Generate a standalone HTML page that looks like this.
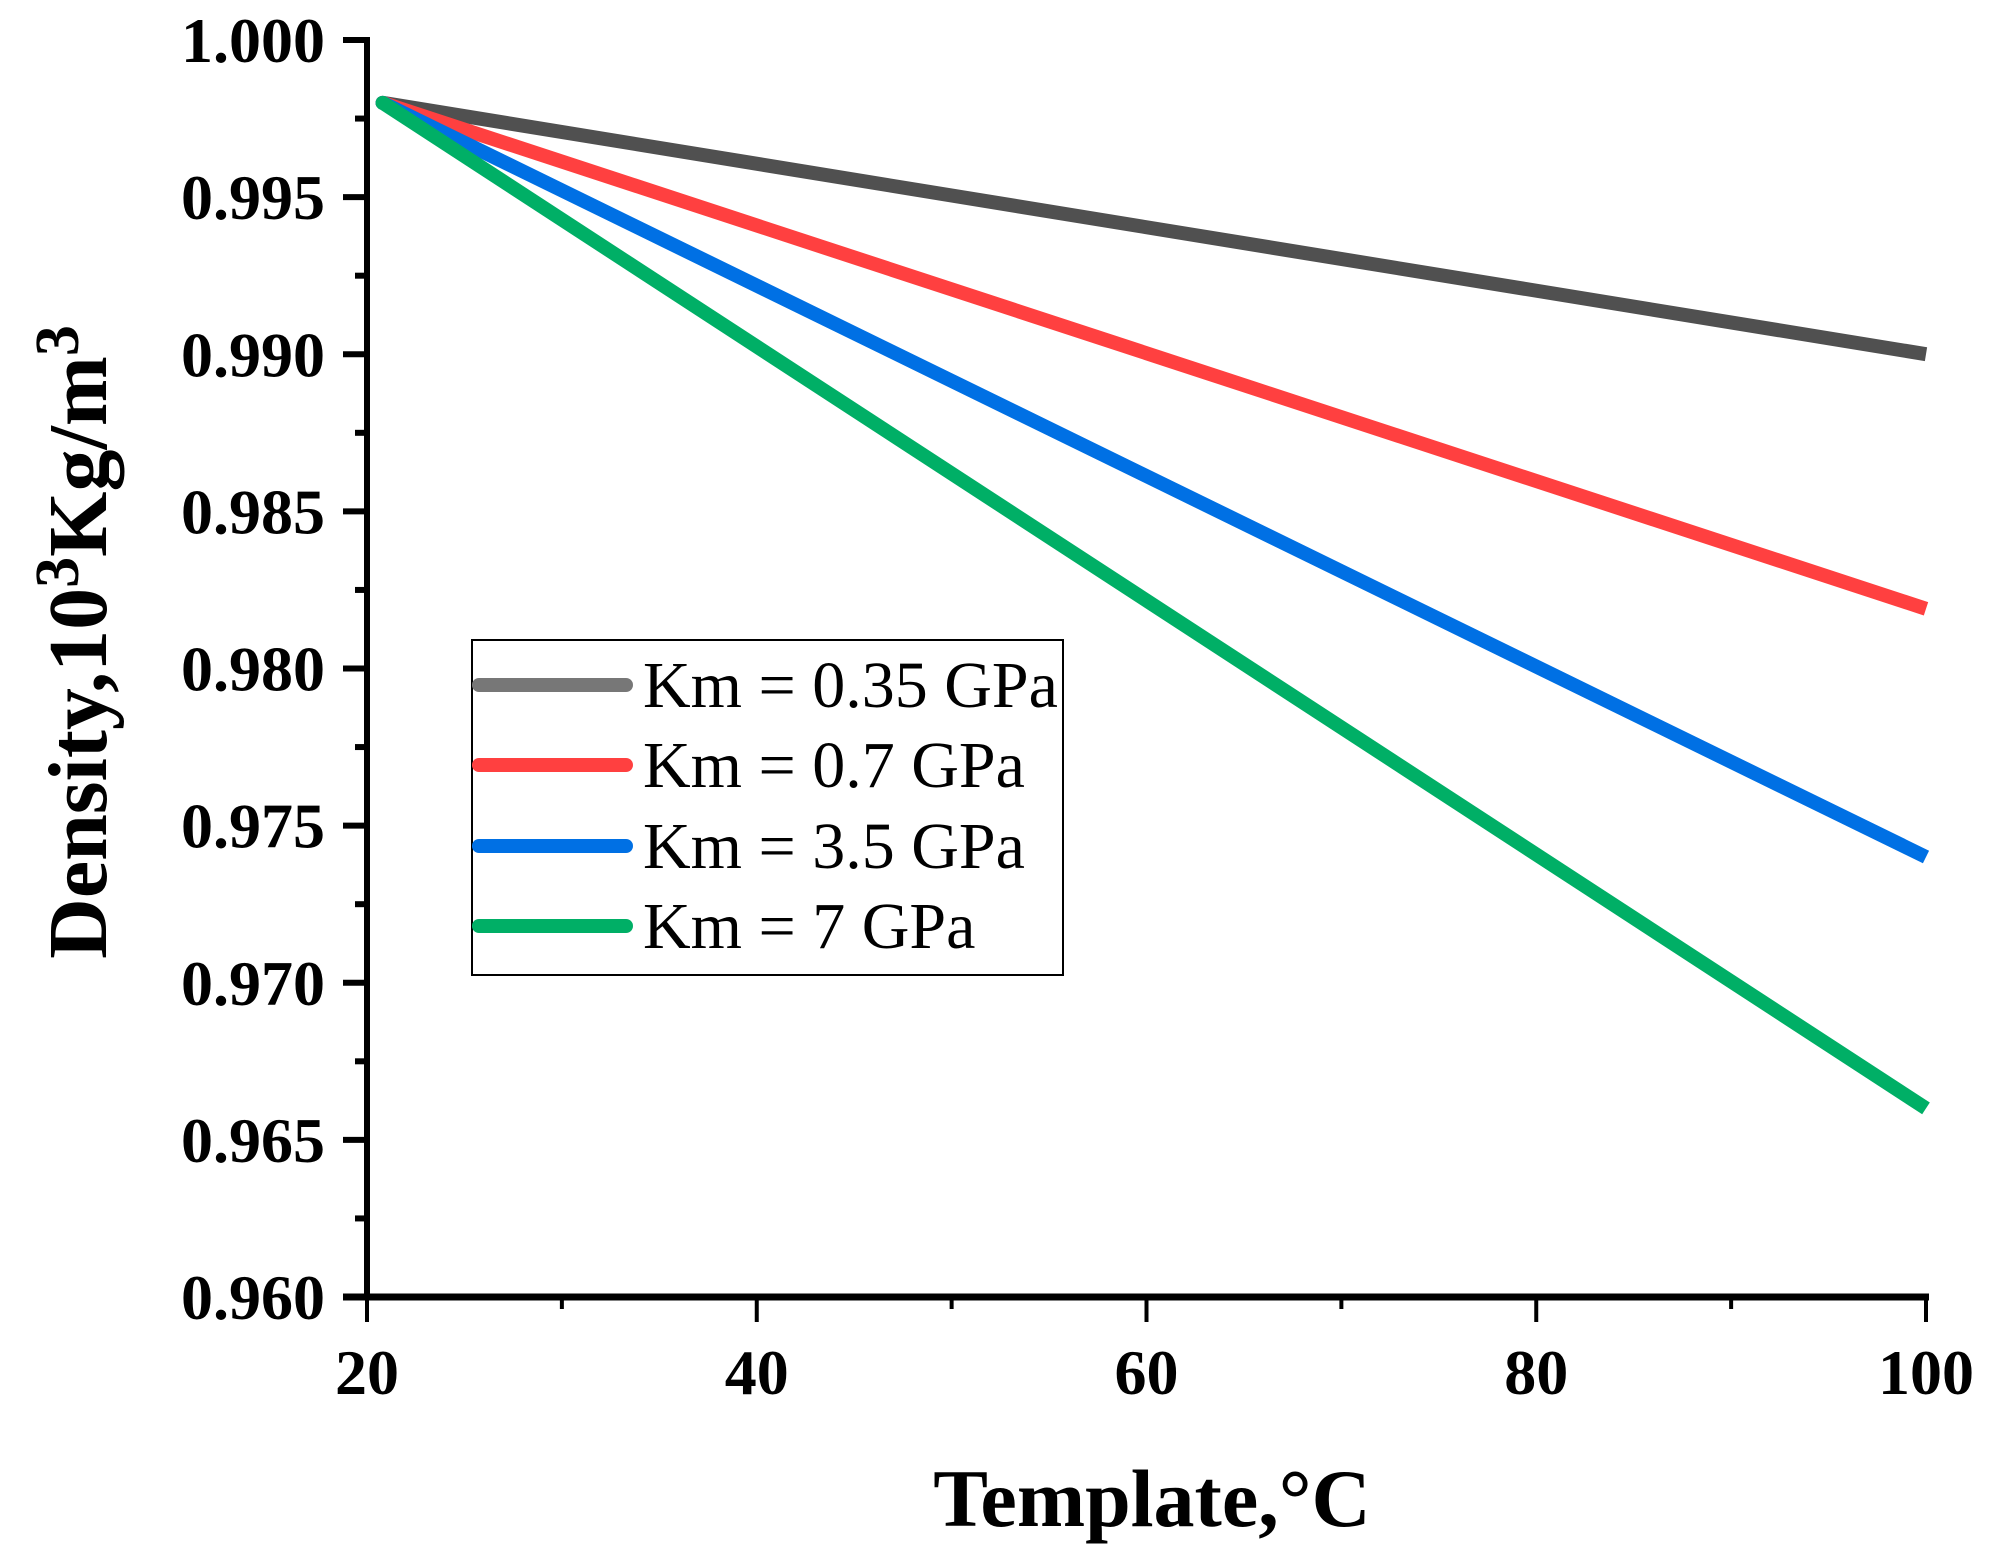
<!DOCTYPE html>
<html><head><meta charset="utf-8"><style>
html,body{margin:0;padding:0;background:#fff;}
svg{display:block;font-family:"Liberation Serif","Times New Roman",serif;}
</style></head><body>
<svg id="chart" width="1989" height="1560" viewBox="0 0 1989 1560" xmlns="http://www.w3.org/2000/svg">
<g id="plot"></g>
</svg>
<script>
const xTicks = [20, 40, 60, 80, 100];
const yTicks = [0.960, 0.965, 0.970, 0.975, 0.980, 0.985, 0.990, 0.995, 1.000];
const yTickLabels = ["0.960","0.965","0.970","0.975","0.980","0.985","0.990","0.995","1.000"];
const seriesNames = ["Km = 0.35 GPa","Km = 0.7 GPa","Km = 3.5 GPa","Km = 7 GPa"];
const seriesColors = ["#505050","#ff4040","#0070e4","#00af66"];
const legendColors = ["#777777","#ff4040","#0070e4","#00af66"];
const xValues = [20.8, 100];
const s035 = [0.998, 0.9900];
const s07 = [0.998, 0.9819];
const s35 = [0.998, 0.9740];
const s7 = [0.998, 0.9660];
const allSeries = [s035, s07, s35, s7];

const NS = "http://www.w3.org/2000/svg";
const X0 = 367, X1 = 1926, Y0 = 1297, Y1 = 40;
function sx(v){ return X0 + (v - 20) / 80 * (X1 - X0); }
function sy(v){ return Y0 - (v - 0.960) / 0.040 * (Y0 - Y1); }
const g = document.getElementById('plot');
function el(tag, attrs, parent){
  const e = document.createElementNS(NS, tag);
  for (const k in attrs) e.setAttribute(k, attrs[k]);
  (parent || g).appendChild(e);
  return e;
}

allSeries.forEach((s, i) => {
  const d = s.map((v, j) => (j ? 'L' : 'M') + sx(xValues[j]).toFixed(1) + ',' + sy(v).toFixed(1)).join(' ');
  const p = el('path', {d: d, stroke: seriesColors[i], 'stroke-width': 14, fill: 'none', 'stroke-linecap': 'butt'});
  
  
  const c = el('circle', {cx: sx(xValues[0]), cy: sy(s[0]), r: 7, fill: seriesColors[i]});
  
  
});

const ya = el('line', {x1: X0, y1: Y1 - 3, x2: X0, y2: Y0 + 3, stroke: '#000', 'stroke-width': 6});


const xa = el('line', {x1: X0 - 24, y1: Y0, x2: X1 + 3, y2: Y0, stroke: '#000', 'stroke-width': 7});



yTicks.forEach((v, i) => {
  const y = sy(v);
  const t = el('line', {x1: X0 - 24, y1: y, x2: X0, y2: y, stroke: '#000', 'stroke-width': 6});
  
  
  const tx = el('text', {x: 325, y: y + 22, 'text-anchor': 'end', 'font-size': 64, 'font-weight': 'bold'});
  tx.textContent = yTickLabels[i];
  
  
  if (i < yTicks.length - 1) {
    const ym = sy(v + 0.0025);
    const m = el('line', {x1: X0 - 12, y1: ym, x2: X0, y2: ym, stroke: '#000', 'stroke-width': 6});
    
    
  }
});
xTicks.forEach((v, i) => {
  const x = sx(v);
  const t = el('line', {x1: x, y1: Y0, x2: x, y2: Y0 + 25, stroke: '#000', 'stroke-width': 4});
  
  
  const tx = el('text', {x: x, y: 1394, 'text-anchor': 'middle', 'font-size': 64, 'font-weight': 'bold'});
  tx.textContent = String(v);
  
  
  if (i < xTicks.length - 1) {
    const xm = sx(v + 10);
    const m = el('line', {x1: xm, y1: Y0, x2: xm, y2: Y0 + 12, stroke: '#000', 'stroke-width': 4});
    
    
  }
});

const xt = el('text', {x: 1152, y: 1526, 'text-anchor': 'middle', 'font-size': 82, 'font-weight': 'bold'});
xt.textContent = 'Template,\u00B0C';


const yt = el('text', {transform: 'translate(106,642) rotate(-90)', 'text-anchor': 'middle', 'font-size': 84, 'font-weight': 'bold'});
yt.innerHTML = 'Density,10<tspan dy="-28" font-size="62">3</tspan><tspan dy="28">Kg/m</tspan><tspan dy="-28" font-size="62">3</tspan>';



const lg = el('g', {});


const box = el('rect', {x: 472, y: 640, width: 591, height: 335, fill: '#fff', stroke: '#000', 'stroke-width': 2}, lg);


const rowY = [685, 765, 846, 926];
seriesNames.forEach((n, i) => {
  const ln = el('line', {x1: 479, y1: rowY[i], x2: 626, y2: rowY[i], stroke: legendColors[i], 'stroke-width': 14, 'stroke-linecap': 'round'}, lg);
  
  
  const t = el('text', {x: 643, y: rowY[i] + 22, 'font-size': 66}, lg);
  t.textContent = n;
  
  
});
</script>
</body></html>
